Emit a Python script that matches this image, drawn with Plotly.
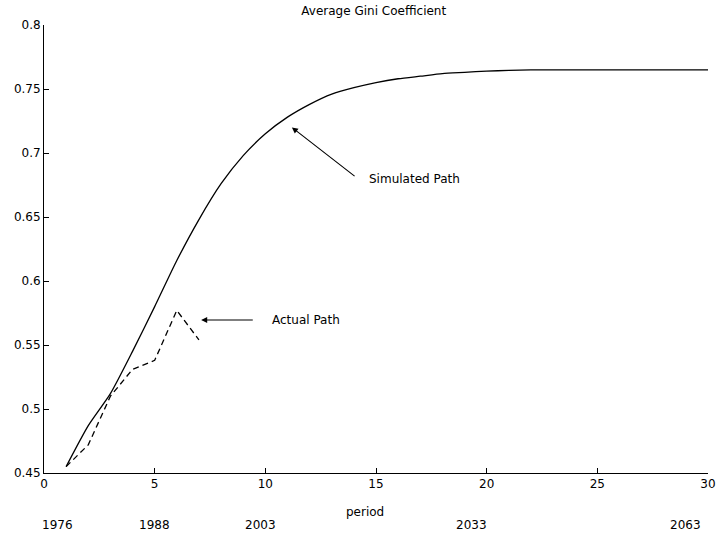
import plotly.graph_objects as go

# simulated and actual Gini paths
sim_period = list(range(1, 31))
sim_gini = [0.455, 0.487, 0.512, 0.545, 0.580, 0.616, 0.648, 0.676, 0.698, 0.715,
            0.728, 0.738, 0.746, 0.751, 0.755, 0.758, 0.760, 0.762, 0.763, 0.764,
            0.7645, 0.765, 0.765, 0.765, 0.765, 0.765, 0.765, 0.765, 0.765, 0.765]
act_period = [1, 2, 3, 4, 5, 6, 7]
act_gini = [0.455, 0.472, 0.510, 0.531, 0.538, 0.577, 0.554]

year_text = ["1976", "1988", "2003", "2033", "2063"]
year_at = [0.6, 5.0, 9.8, 19.3, 29.0]

font = dict(family="DejaVu Sans, Liberation Sans, Arial", size=12, color="black")

fig = go.Figure()
fig.add_trace(go.Scatter(x=sim_period, y=sim_gini, mode="lines",
                         line=dict(color="black", width=1.3, shape="spline", smoothing=0.6)))
fig.add_trace(go.Scatter(x=act_period, y=act_gini, mode="lines",
                         line=dict(color="black", width=1.3, dash="6px,4px")))

# arrows with their labels
fig.add_annotation(x=11.2, y=0.720, ax=14.1, ay=0.681, axref="x", ayref="y", text="",
                   showarrow=True, arrowhead=2, arrowsize=1.1, arrowwidth=1.1, arrowcolor="black")
fig.add_annotation(x=14.6, y=0.680, text="Simulated Path", showarrow=False,
                   xanchor="left", font=font)
fig.add_annotation(x=7.1, y=0.5695, ax=9.5, ay=0.5695, axref="x", ayref="y", text="",
                   showarrow=True, arrowhead=2, arrowsize=1.1, arrowwidth=1.1, arrowcolor="black")
fig.add_annotation(x=10.2, y=0.5695, text="Actual Path", showarrow=False,
                   xanchor="left", font=font)

# period label and calendar years under the axis
fig.add_annotation(x=14.5, y=-0.108, yref="paper", text="period", showarrow=False, font=font)
for t, p in zip(year_text, year_at):
    fig.add_annotation(x=p, y=-0.136, yref="paper", text=t, showarrow=False, font=font)

fig.update_layout(
    width=716, height=538, showlegend=False,
    plot_bgcolor="white", paper_bgcolor="white",
    margin=dict(l=44, r=8, t=25, b=65),
    font=font,
    title=dict(text="Average Gini Coefficient", x=0.522, xanchor="center",
               y=1 - 11 / 538, yanchor="middle", font=font),
)
fig.update_xaxes(range=[0, 30], tickvals=[0, 5, 10, 15, 20, 25, 30], ticks="inside",
                 ticklen=5, showgrid=False, zeroline=False, showline=True, automargin=False,
                 linecolor="black", linewidth=1, tickcolor="black")
fig.update_yaxes(range=[0.45, 0.8], tickvals=[0.45, 0.5, 0.55, 0.6, 0.65, 0.7, 0.75, 0.8],
                 ticks="inside", ticklen=5, showgrid=False, zeroline=False, showline=True,
                 automargin=False, linecolor="black", linewidth=1, tickcolor="black")

# drop the page's default body margin so the figure fills the window exactly
fig.write_html("out.html", config={"displayModeBar": False},
               post_script="document.body.style.margin = '0';")
